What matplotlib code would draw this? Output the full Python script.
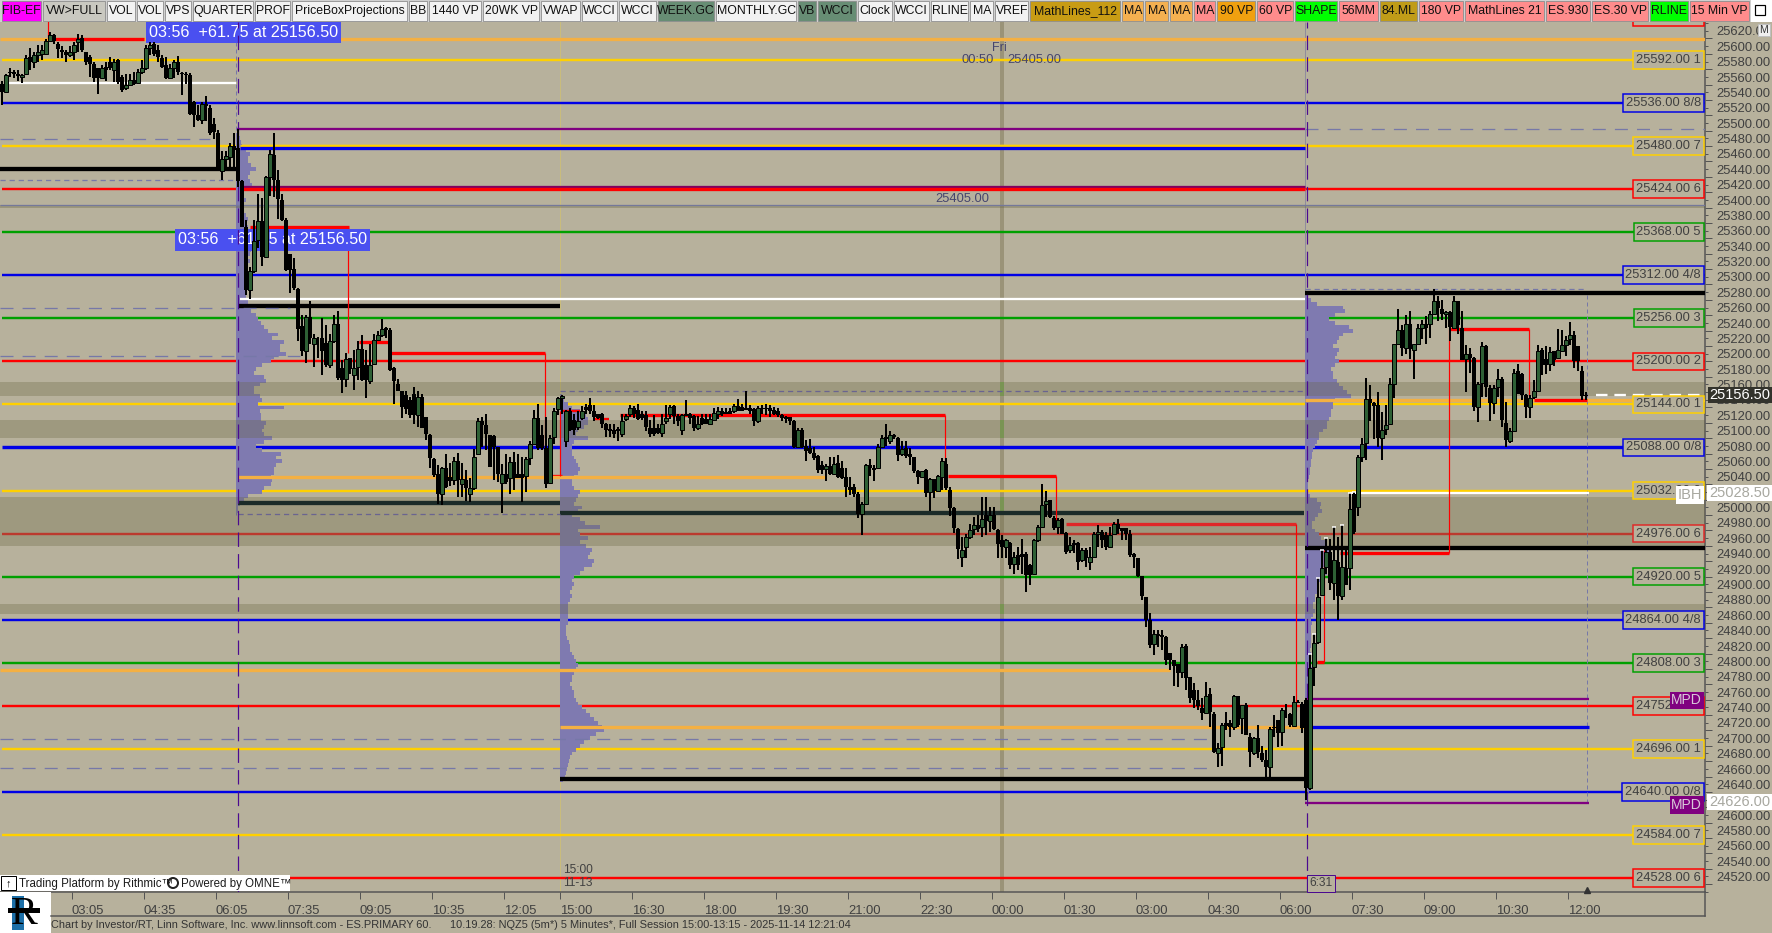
import matplotlib
matplotlib.use("Agg")
import matplotlib.pyplot as plt
from matplotlib.patches import Rectangle, Circle
from matplotlib.ticker import MultipleLocator
import numpy as np

plt.rcParams['font.family'] = ['Liberation Sans', 'DejaVu Sans']

BG = '#b7b19c'
W, H = 1772, 933

# candles, 5 minute bars, first one sits left of the 03:05 tick
first_bar = -18
body_top = [
    25561,25572,25577,25576,25574,25572,25595,25596,25598,25603,
    25605,25617,25624,25624,25613,25605,25602,25603,25612,25619,
    25620,25602,25596,25587,25581,25582,25583,25589,25590,25592,
    25570,25560,25566,25566,25576,25581,25608,25612,25613,25605,
    25595,25586,25581,25589,25589,25575,25574,25572,25537,25520,
    25535,25535,25530,25509,25497,25463,25467,25480,25480,25477,
    25435,25375,25317,25356,25382,25382,25440,25470,25468,25436,
    25410,25384,25340,25320,25294,25246,25258,25258,25231,25231,
    25230,25224,25226,25249,25249,25191,25203,25204,25192,25216,
    25216,25195,25195,25228,25234,25242,25243,25241,25191,25171,
    25162,25156,25150,25158,25153,25153,25128,25104,25073,25054,
    25061,25061,25050,25070,25070,25047,25046,25035,25076,25122,
    25122,25117,25104,25103,25089,25054,25054,25069,25069,25053,
    25053,25073,25093,25126,25126,25104,25087,25100,25135,25152,
    25155,25135,25135,25124,25123,25135,25140,25143,25135,25132,
    25132,25119,25112,25111,25112,25122,25129,25139,25139,25137,
    25132,25130,25113,25113,25113,25118,25126,25141,25142,25129,
    25130,25132,25132,25129,25119,25126,25125,25125,25133,25135,
    25135,25134,25135,25142,25142,25141,25139,25139,25138,25139,
    25139,25139,25139,25137,25135,25130,25128,25127,25123,25111,
    25111,25090,25087,25081,25077,25065,25064,25064,25067,25068,
    25061,25049,25037,25036,25028,25015,25065,25065,25061,25088,
    25100,25101,25104,25104,25100,25086,25087,25080,25075,25058,
    25057,25059,25047,25047,25051,25070,25067,25033,25009,24982,
    24955,24971,24981,24987,24987,24995,25000,25000,25000,24981,
    24967,24967,24964,24946,24948,24950,24950,24935,24967,24984,
    25013,25019,25020,24996,24994,24995,24977,24961,24964,24964,
    24955,24955,24945,24976,24978,24978,24974,24974,24988,24989,
    24983,24983,24975,24950,24944,24921,24893,24864,24845,24845,
    24844,24842,24821,24812,24806,24828,24830,24789,24773,24760,
    24749,24765,24767,24741,24697,24727,24729,24730,24765,24765,
    24753,24753,24712,24710,24710,24690,24681,24722,24725,24733,
    24746,24747,24741,24757,24757,24754,24759,24801,24834,24894,
    24931,24952,24952,24942,24939,24932,24931,25008,25028,25076,
    25092,25151,25151,25146,25143,25111,25117,25170,25222,25241,
    25241,25248,25248,25222,25243,25248,25248,25261,25279,25279,
    25268,25264,25264,25278,25278,25244,25210,25210,25204,25170,
    25220,25220,25165,25165,25177,25177,25120,25110,25185,25187,
    25184,25156,25152,25162,25213,25215,25203,25212,25213,25215,
    25221,25228,25234,25234,25220,25188,25156]
body_bot = [
    25550,25551,25575,25574,25571,25570,25574,25589,25589,25599,
    25600,25600,25617,25617,25606,25602,25598,25598,25602,25615,
    25605,25589,25587,25568,25568,25568,25579,25581,25579,25563,
    25553,25555,25560,25561,25562,25576,25581,25608,25600,25596,
    25583,25569,25569,25581,25576,25574,25573,25522,25521,25514,
    25514,25532,25497,25498,25451,25448,25463,25466,25475,25435,
    25375,25293,25293,25318,25358,25336,25336,25440,25436,25411,
    25384,25319,25319,25295,25242,25213,25213,25231,25223,25230,
    25213,25195,25195,25226,25178,25176,25177,25190,25182,25193,
    25176,25176,25175,25197,25228,25234,25241,25189,25174,25162,
    25141,25138,25130,25130,25130,25113,25106,25074,25052,25028,
    25027,25037,25044,25046,25046,25040,25035,25028,25035,25079,
    25117,25105,25063,25089,25054,25042,25043,25048,25048,25048,
    25048,25051,25074,25093,25087,25087,25041,25042,25101,25138,
    25152,25096,25111,25111,25114,25126,25137,25135,25127,25126,
    25119,25111,25110,25106,25109,25106,25125,25132,25132,25125,
    25126,25114,25106,25106,25107,25107,25122,25132,25129,25122,
    25111,25129,25126,25113,25113,25119,25119,25119,25124,25132,
    25132,25132,25132,25135,25136,25136,25137,25136,25122,25122,
    25138,25138,25136,25132,25130,25126,25125,25123,25089,25088,
    25089,25083,25081,25074,25059,25059,25060,25054,25054,25049,
    25048,25037,25033,25028,25001,25002,25015,25061,25059,25061,
    25089,25099,25096,25102,25078,25080,25077,25075,25057,25049,
    25050,25029,25030,25032,25032,25049,25035,25009,24983,24956,
    24945,24958,24971,24982,24982,24984,24992,24992,24982,24963,
    24958,24958,24935,24936,24935,24946,24922,24922,24923,24968,
    24985,25015,24997,24983,24984,24976,24952,24954,24961,24939,
    24942,24944,24939,24946,24976,24967,24959,24958,24975,24982,
    24979,24976,24948,24946,24921,24895,24864,24831,24832,24843,
    24842,24812,24811,24804,24795,24796,24788,24762,24760,24752,
    24743,24743,24744,24692,24691,24698,24726,24724,24725,24727,
    24736,24714,24692,24691,24692,24681,24673,24673,24723,24717,
    24718,24746,24727,24726,24756,24723,24645,24645,24802,24835,
    24896,24933,24912,24912,24895,24895,24909,24931,24978,25010,
    25076,25094,25146,25142,25100,25100,25112,25118,25171,25223,
    25217,25218,25216,25215,25223,25244,25244,25248,25261,25269,
    25262,25261,25245,25244,25247,25202,25203,25204,25141,25141,
    25172,25166,25146,25146,25166,25124,25098,25096,25110,25158,
    25156,25141,25141,25153,25162,25195,25195,25196,25202,25205,
    25214,25221,25229,25201,25200,25155,25155]
highs = [
    25565,25574,25581,25579,25579,25574,25598,25608,25602,25612,
    25612,25619,25629,25626,25615,25610,25605,25610,25615,25626,
    25624,25603,25598,25589,25582,25585,25589,25596,25593,25593,
    25572,25574,25574,25576,25580,25592,25612,25615,25616,25612,
    25598,25596,25587,25592,25597,25577,25576,25575,25538,25533,
    25537,25545,25533,25516,25501,25473,25473,25484,25497,25502,
    25436,25384,25323,25384,25418,25412,25441,25475,25497,25449,
    25418,25386,25340,25335,25295,25260,25260,25278,25236,25232,
    25256,25247,25236,25260,25265,25202,25211,25204,25215,25226,
    25234,25215,25223,25236,25239,25255,25245,25243,25193,25177,
    25162,25161,25154,25166,25161,25158,25128,25105,25074,25065,
    25062,25079,25068,25076,25081,25068,25059,25048,25086,25126,
    25127,25132,25104,25104,25089,25067,25080,25076,25082,25080,
    25076,25076,25097,25137,25145,25117,25128,25104,25139,25154,
    25156,25137,25139,25132,25135,25142,25145,25152,25143,25132,
    25133,25120,25119,25119,25115,25132,25132,25143,25142,25145,
    25135,25136,25124,25130,25119,25132,25143,25143,25143,25132,
    25132,25150,25133,25130,25129,25132,25132,25132,25139,25140,
    25139,25139,25139,25145,25151,25145,25161,25143,25139,25142,
    25143,25145,25143,25140,25139,25132,25129,25128,25124,25113,
    25113,25098,25099,25089,25078,25070,25067,25076,25076,25078,
    25070,25061,25050,25041,25030,25017,25067,25073,25065,25093,
    25104,25119,25109,25106,25101,25096,25096,25087,25076,25059,
    25058,25060,25048,25047,25052,25074,25074,25036,25010,24983,
    24971,24976,24988,24997,25000,25024,25024,25011,25011,24982,
    24974,24969,24965,24952,24959,24969,24952,24937,24969,24987,
    25040,25031,25020,24999,24996,24996,24978,24972,24968,24965,
    24957,24957,24959,24978,24987,24981,24978,24985,24991,24995,
    24983,24983,24981,24951,24944,24921,24893,24873,24851,24851,
    24850,24843,24821,24812,24806,24832,24833,24790,24782,24773,
    24762,24783,24775,24744,24704,24729,24744,24733,24766,24765,
    24753,24755,24716,24712,24727,24700,24694,24725,24740,24733,
    24749,24754,24742,24765,24759,24757,24762,24819,24845,24918,
    24955,24970,24969,24984,24972,24987,24957,25029,25030,25078,
    25100,25179,25169,25147,25160,25134,25143,25178,25223,25268,
    25247,25260,25266,25223,25249,25254,25259,25265,25294,25285,
    25280,25265,25265,25285,25279,25265,25221,25217,25206,25173,
    25225,25221,25169,25169,25190,25180,25147,25113,25190,25197,
    25185,25158,25156,25176,25221,25217,25220,25219,25214,25242,
    25241,25233,25251,25239,25220,25194,25160]
lows = [
    25533,25550,25570,25569,25565,25562,25573,25579,25581,25589,
    25592,25598,25615,25613,25594,25594,25589,25596,25592,25602,
    25603,25586,25570,25564,25548,25567,25565,25579,25564,25561,
    25550,25553,25559,25560,25561,25574,25579,25598,25597,25590,
    25581,25567,25568,25568,25573,25547,25561,25521,25505,25512,
    25509,25512,25495,25489,25449,25436,25451,25451,25453,25427,
    25375,25286,25281,25315,25347,25324,25335,25415,25414,25385,
    25382,25317,25289,25293,25227,25207,25198,25223,25193,25204,
    25182,25193,25191,25224,25176,25159,25167,25184,25163,25176,
    25174,25152,25171,25195,25228,25232,25230,25188,25145,25161,
    25126,25132,25126,25119,25115,25113,25098,25061,25050,25014,
    25013,25035,25038,25039,25023,25023,25018,25017,25033,25078,
    25089,25085,25063,25046,25043,25003,25041,25028,25033,25048,
    25017,25030,25065,25091,25085,25085,25035,25041,25093,25130,
    25132,25089,25109,25104,25111,25124,25132,25132,25122,25125,
    25113,25102,25102,25100,25096,25102,25122,25127,25126,25124,
    25124,25109,25101,25103,25106,25102,25119,25125,25119,25116,
    25104,25129,25119,25109,25111,25117,25119,25117,25123,25125,
    25129,25132,25132,25133,25135,25135,25137,25132,25116,25120,
    25132,25130,25127,25130,25127,25122,25120,25117,25087,25087,
    25087,25070,25080,25072,25055,25054,25044,25052,25052,25048,
    25047,25023,25026,25024,24996,24974,25014,25051,25044,25060,
    25089,25090,25093,25099,25070,25077,25074,25065,25055,25041,
    25048,25024,25006,25022,25030,25033,25033,24999,24977,24943,
    24933,24944,24969,24974,24978,24972,24974,24978,24981,24944,
    24944,24944,24930,24924,24929,24924,24900,24909,24922,24965,
    24984,24997,24996,24981,24976,24975,24950,24951,24951,24929,
    24939,24933,24928,24944,24959,24957,24954,24957,24974,24976,
    24968,24968,24946,24931,24919,24889,24855,24827,24818,24828,
    24824,24805,24799,24778,24777,24788,24773,24756,24749,24746,
    24733,24741,24725,24690,24672,24674,24720,24711,24721,24725,
    24715,24714,24672,24688,24684,24679,24660,24660,24712,24699,
    24700,24736,24725,24725,24755,24717,24629,24643,24778,24833,
    24895,24924,24903,24890,24864,24890,24909,24903,24975,24999,
    25069,25072,25123,25099,25088,25072,25104,25117,25152,25221,
    25207,25210,25203,25177,25223,25229,25223,25230,25260,25253,
    25254,25243,25226,25243,25236,25202,25160,25185,25136,25121,
    25154,25154,25123,25131,25154,25114,25089,25094,25108,25157,
    25150,25126,25126,25151,25161,25182,25183,25187,25194,25204,
    25213,25207,25221,25192,25188,25150,25150]
bar_dir = ("BGBBBGGBGG" "GGGBBBBGGG" "BBBBBGBBGB" "BGGBGGGGBB" "BBGGBBBBBB"
           "GBBBBGGGBB" "BBGGGBGGBB" "BBBBBBGBGB" "BBGGBBGBGG" "BBGGGGBBBB"
           "BBBBGBBBBB" "GBBGBGBGGG" "BBBBBGBGBB" "BGGGBBBGGG" "GGBBGGBBBB"
           "BBBBBGGGBB" "BBBBBGGGBB" "GBBBGBBGGG" "BBBGBBBBBG" "BBBBBBBBBG"
           "BBBBBBGBGB" "BBBBBGGBBG" "GBGBBGBBBB" "GBGBGGBBBB" "GGGGBGBGBB"
           "BGBGBBBBGG" "GGBBGBBGBB" "GBGGGBBGGB" "BBBBBBBBGB" "BBBBBGBBBB"
           "BGBBGGBBGB" "GBBGBBBGBB" "GBBGBBBGGG" "GGBGBGBGBG" "GGBBBGGGGG"
           "BGBGGGBGGB" "BGBGBBGBBG" "GBBGGBBGGB" "BBGGGBBGBG" "GGGBBBB")
capped_bars = [309, 310, 311, 312, 313, 315, 317, 319, 320]

# math lines along the right edge
math_prices = [25648, 25592, 25536, 25480, 25424, 25368, 25312, 25256, 25200, 25144, 25088,
               25032, 24976, 24920, 24864, 24808, 24752, 24696, 24640, 24584, 24528]
math_tags = ['2', '1', '8/8', '7', '6', '5', '4/8', '3', '2', '1', '0/8',
             '0', '6', '5', '4/8', '3', '2', '1', '0/8', '7', '6']
math_colors = ['#ff0000', '#ffd000', '#0000e6', '#ffd000', '#ff0000', '#00a000', '#0000e6', '#00a000',
               '#ff0000', '#ffd000', '#0000e6', '#ffd000', '#e02828', '#00a000', '#0000e6', '#00a000',
               '#ff0000', '#ffd000', '#0000e6', '#ffd000', '#ff0000']

# shaded value zones
zone_tops = [25173, 25124, 25024, 24884]
zone_bots = [25155, 25100, 24960, 24872]
green_tops = [25173, 25124, 25024, 24884]
green_bots = [25155, 25100, 25006, 24872]

# volume profiles, widths per 5 point row
prof1_top = 25495
prof1_vol = [2,4,5,6,10,14,12,12,15,20,14,12,14,16,10,8,6,10,8,6,8,10,12,10,12,14,12,14,12,14,15,14,12,14,12,10,
             14,12,14,16,12,10,10,12,12,14,15,20,22,25,28,32,42,36,48,44,44,50,38,35,26,20,18,28,30,24,18,18,24,26,
             22,48,24,25,25,30,28,26,28,36,28,20,26,45,40,46,40,38,38,35,36,35,28,26,12,8,4,2,2]
prof2_top = 25155
prof2_vol = [2,4,8,12,20,26,28,28,24,18,16,28,14,12,12,12,14,16,18,20,18,14,12,12,14,20,18,16,14,22,18,12,20,25,
             40,18,20,28,20,26,32,30,28,34,32,24,20,14,12,14,12,10,12,10,8,8,8,8,8,8,6,6,6,7,9,10,10,12,14,16,18,
             16,14,12,12,10,12,14,14,16,18,22,26,30,34,38,42,44,36,30,24,20,16,12,10,9,8,7,6,5,3]
prof3_top = 25285
prof3_vol = [3,6,12,38,40,30,24,30,44,48,38,34,32,28,34,32,30,34,30,26,28,28,32,34,38,42,46,30,28,28,26,26,24,22,
             22,18,14,14,12,10,8,7,7,6,6,5,5,4,3,3,3,3,5,12,16,15,17,13,10,7,7,10,14,16,20,22,24,20,22,20,20,18,
             22,20,16,14,14,12,10,10,8,8,10,8,6,7,6,6,6,6,6,6,5,6,5,5,5,8,6,5,5,4,3,3,3,2,2,2,2,2,2,2,2,2,2,2,2,
             2,2,2,2,2,2,2,3,3,3,3,4,4]

# partial horizontal lines: price, then (from px, to px, colour, width px, style)
seg_prices = [25619, 25619, 25562.5, 25502, 25502, 25488.6, 25480, 25477, 25450, 25436, 25426.4, 25424,
              25404, 25375, 25272, 25281, 25289, 25294.5, 25269.4, 25207, 25224.6, 25210.5,
              25051, 25050, 25135, 25125, 25130, 25051, 24989, 25016, 25003, 25002, 25161, 24957.6,
              24950.4, 24809, 25241.6, 25150, 25150, 25029, 25156.5, 24799, 24760.8, 24724, 24724,
              24709, 24671.5, 24657.3, 24626]
seg_specs = [(0, 1705, '#f4b042', 3, '-'), (50, 144, '#ff0000', 3, '-'), (8, 236, 'white', 2, '-'),
             (237, 1305, '#800080', 2, '-'), (1305, 1705, '#7678a8', 1, (0, (10, 7))),
             (0, 210, '#7678a8', 1, (0, (10, 7))), (240, 1305, '#ffd000', 3, '-'), (240, 1305, '#0000e6', 3, '-'),
             (0, 236, 'black', 4, '-'), (0, 236, '#7678a8', 1, (0, (4, 3))), (240, 1305, '#800060', 3, '-'),
             (240, 1305, '#ff0000', 3, '-'), (0, 1705, '#74789a', 1, '-'), (250, 349, '#ff0000', 3, '-'),
             (238, 560, 'black', 4, '-'), (240, 1305, 'white', 2, '-'), (1305, 1705, 'black', 4, '-'),
             (1305, 1587, '#7678a8', 1, (0, (4, 3))), (0, 290, '#7678a8', 1, (0, (10, 7))),
             (0, 300, '#7678a8', 1, (0, (10, 7))), (359, 388, '#ff0000', 3, '-'), (390, 545, '#ff0000', 3, '-'),
             (548, 562, '#ff0000', 3, '-'), (238, 825, '#f4b042', 3, '-'), (562, 580, '#ff0000', 2, '-'),
             (595, 609, '#ff0000', 2, '-'), (620, 945, '#ff0000', 3, '-'), (948, 1056, '#ff0000', 3, '-'),
             (1066, 1296, '#e02828', 3, '-'), (238, 560, '#1b2b28', 4, '-'), (560, 1304, '#1b2b28', 4, '-'),
             (238, 560, '#6a6490', 1, (0, (4, 3))), (560, 1305, '#6a6490', 1, (0, (4, 3))),
             (1305, 1705, 'black', 4, '-'), (1340, 1449, '#ff0000', 3, '-'), (1317, 1324, '#ff0000', 3, '-'),
             (1449, 1529, '#ff0000', 3, '-'), (1305, 1705, '#f4b042', 3, '-'), (1534, 1587, '#ff0000', 3, '-'),
             (1350, 1589, 'white', 2, '-'), (1596, 1705, 'white', 2, (0, (5, 3))), (0, 1170, '#f4b042', 3, '-'),
             (1305, 1589, '#800080', 2, '-'), (560, 1305, '#f4b042', 3, '-'), (1306, 1589, '#0000e6', 3, '-'),
             (0, 1215, '#7678a8', 1, (0, (10, 7))), (0, 1215, '#7678a8', 1, (0, (10, 7))),
             (560, 1305, 'black', 4, '-'), (1305, 1589, '#800080', 2, '-')]

# thin red steps: px, price from, price to
step_prices = [(25619, 25650), (25375, 25210.5), (25210.5, 25051), (25051, 25135), (25130, 25051),
               (25051, 24989), (24989, 24745), (24809, 24955), (24950.4, 25241.6), (25241.6, 25150)]
step_px = [48, 348, 545, 560, 945, 1056, 1296, 1324, 1449, 1529]

tick_labels = ['03:05', '04:35', '06:05', '07:35', '09:05', '10:35', '12:05', '15:00', '16:30', '18:00', '19:30',
               '21:00', '22:30', '00:00', '01:30', '03:00', '04:30', '06:00', '07:30', '09:00', '10:30', '12:00']
tick_px = [72, 144, 216, 288, 360, 432, 504, 560, 632, 704, 776, 848, 920, 992, 1064, 1136, 1208, 1280, 1352,
           1424, 1496, 1568]

buttons = ['FIB-EF', 'VW>FULL', 'VOL', 'VOL', 'VPS', 'QUARTER', 'PROF', 'PriceBoxProjections', 'BB', '1440 VP',
           '20WK VP', 'VWAP', 'WCCI', 'WCCI', 'WEEK.GC', 'MONTHLY.GC', 'VB', 'WCCI', 'Clock', 'WCCI', 'RLINE',
           'MA', 'VREF', 'MathLines_112', 'MA', 'MA', 'MA', 'MA', '90 VP', '60 VP', 'SHAPE', '56MM', '84.ML',
           '180 VP', 'MathLines 21', 'ES.930', 'ES.30 VP', 'RLINE', '15 Min VP']
button_edges = [2, 43, 107, 137, 165, 193, 255, 292, 409, 429, 483, 541, 582, 619, 658, 716, 798, 818, 858, 894,
                931, 970, 995, 1030, 1122, 1145, 1170, 1194, 1217, 1257, 1295, 1339, 1380, 1419, 1465, 1546, 1592,
                1650, 1690, 1751]
button_colors = ['#ff00ff', '#c9c8c0'] + ['#f2f2f2'] * 12 + ['#678d74', '#f2f2f2', '#678d74', '#678d74', '#f2f2f2',
                 '#f2f2f2', '#f2f2f2', '#f2f2f2', '#f2f2f2', '#c89c14', '#f4b050', '#f4b050', '#f4b050', '#ff8c8c',
                 '#f0a010', '#ff8c8c', '#00ff00', '#ff8c8c', '#c09c18', '#ff8c8c', '#ff8c8c', '#ff8c8c', '#ff8c8c',
                 '#00ff00', '#ff8c8c']


def bx(px):
    # screen column to bar position, one bar is 4 px
    return (px - 74) / 4.0


def lw(px):
    return px * 0.72


fig = plt.figure(figsize=(W / 100, H / 100), dpi=100, facecolor=BG)
ax = fig.add_axes([0, (H - 892) / H, 1705 / W, (892 - 22) / H], facecolor=BG)
ax.set_xlim(bx(0), bx(1705))
ax.set_ylim(24509.8, 25641.4)

# zones
for t, b in zip(zone_tops, zone_bots):
    ax.axhspan(b, t, color='#67643f', alpha=0.3, lw=0, zorder=2.6)
ax.axhspan(25404, 25399, color='#67643f', alpha=0.35, lw=0, zorder=2.6)
ax.axvspan(bx(1000), bx(1004), color='#9a9378', lw=0, zorder=1)
for t, b in zip(green_tops, green_bots):
    ax.fill_betweenx([b, t], bx(1000), bx(1004), color='#82aa5c', lw=0, zorder=1.1)

# math lines and their tags
for p, tag, c in zip(math_prices, math_tags, math_colors):
    ax.hlines(p, bx(2), bx(1705), color=c, lw=lw(3.4 if p == 25088 else 2.4), zorder=2)
    ax.text(bx(1701), p, '%.2f %s' % (p, tag), ha='right', va='center', fontsize=9.3, color='#404040', zorder=6,
            clip_on=True, bbox=dict(boxstyle='square,pad=0.22', fc=BG, ec=c, lw=lw(1.5)))

# partial lines
for p, (x0, x1, c, w, ls) in zip(seg_prices, seg_specs):
    ax.hlines(p, bx(x0), bx(x1), color=c, lw=lw(w + 0.3), linestyles=[ls], zorder=3)
for px, (p0, p1) in zip(step_px, step_prices):
    ax.vlines(bx(px), p0, p1, color='#ff0000', lw=lw(1.2), zorder=3)

# session separators
ax.axvline(bx(560), color='#c9bc7c', lw=lw(1), zorder=1.5)
ax.vlines(bx(560), 24660, 25160, color='#7678a8', lw=lw(1), linestyles=[(0, (4, 3))], zorder=2)
ax.vlines(bx(235.5), 25000, 25641, color='#7678a8', lw=lw(1), linestyles=[(0, (4, 3))], zorder=2)
ax.vlines(bx(1305), 24626, 25641, color='#8f8c9c', lw=lw(1), zorder=2)
ax.vlines(bx(1587), 24626, 25290, color='#7678a8', lw=lw(1), linestyles=[(0, (4, 3))], zorder=2)

# volume profiles
for base, top, vol in [(236, prof1_top, prof1_vol), (560, prof2_top, prof2_vol), (1305, prof3_top, prof3_vol)]:
    rows = top - 5 * np.arange(len(vol))
    ax.barh(rows, np.array(vol) / 4.0, left=bx(base), height=5, color='#7f7ab0', lw=0, zorder=2.5)

for px in [238.4, 1306.5]:
    ax.axvline(bx(px), color='#4b0a90', lw=lw(1.2), linestyle=(0, (12, 6)), zorder=4)

# floating price tags, candles run over them
ax.text(bx(149), 25628, '03:56  +61.75 at 25156.50', color='white', fontsize=11.6, va='center', zorder=3.5,
        bbox=dict(boxstyle='square,pad=0.2', fc='#4a50f0', ec='none'))
ax.text(bx(178), 25358, '03:56  +61.75 at 25156.50', color='white', fontsize=11.6, va='center', zorder=3.5,
        bbox=dict(boxstyle='square,pad=0.2', fc='#4a50f0', ec='none'))

# candles
xs = first_bar + np.arange(len(body_top))
top = np.array(body_top, dtype=float)
bot = np.array(body_bot, dtype=float)
ups = np.array([d == 'G' for d in bar_dir])
ax.vlines(xs, lows, highs, color='black', lw=lw(2), zorder=5, antialiased=False)
ax.bar(xs[~ups], (top - bot)[~ups], bottom=bot[~ups], width=1.0, color='black', lw=0, zorder=5.1)
ax.bar(xs[ups], (top - bot)[ups], bottom=bot[ups], width=0.8, color='#2e6035', edgecolor='black', lw=lw(1), zorder=5.2)
for i in capped_bars:
    ax.hlines(highs[i - first_bar], i - 0.6, i + 0.5, color='white', lw=lw(1.5), zorder=5.3)

# small labels on the chart
ax.text(bx(962), 25592.5, '00:50', color='#45456e', fontsize=9.3, va='center', zorder=4)
ax.text(bx(1007), 25592.5, '25405.00', color='#45456e', fontsize=9.3, va='center', zorder=4)
ax.text(bx(992), 25608, 'Fri', color='#45456e', fontsize=9, va='center', zorder=4)
ax.text(bx(935), 25411, '25405.00', color='#45456e', fontsize=9.3, va='center', zorder=4)
ax.text(bx(563), 24538, '15:00', color='#404040', fontsize=8.6, va='center', zorder=4)
ax.text(bx(563), 24522, '11-13', color='#404040', fontsize=8.6, va='center', zorder=4)
ax.text(bx(1309), 24521, '6:31', color='#404040', fontsize=8.6, va='center', zorder=6,
        bbox=dict(boxstyle='square,pad=0.2', fc=BG, ec='#4b0a90', lw=lw(1)))
ax.plot([bx(1587)], [24513], marker='^', ms=5, color='#333333', zorder=6, clip_on=False)

# value tags sitting on the math tags
ax.text(bx(1702), 25026, 'IBH', ha='right', va='center', fontsize=10.5, color='#a8a8a0', zorder=7,
        bbox=dict(boxstyle='square,pad=0.12', fc='white', ec='none'))
ax.text(bx(1702), 24759, 'MPD', ha='right', va='center', fontsize=10, color='#d8c8d8', zorder=7,
        bbox=dict(boxstyle='square,pad=0.12', fc='#800080', ec='none'))
ax.text(bx(1702), 24623, 'MPD', ha='right', va='center', fontsize=10, color='#d8c8d8', zorder=7,
        bbox=dict(boxstyle='square,pad=0.12', fc='#800080', ec='none'))

# axes
ax.set_yticks(np.arange(24520, 25640, 20))
ax.yaxis.set_minor_locator(MultipleLocator(10))
ax.yaxis.set_major_formatter(lambda v, pos: '%.2f' % v)
ax.yaxis.tick_right()
ax.tick_params(axis='y', which='major', length=5, width=lw(1), color='#555555', labelcolor='#404040',
               labelsize=9.4, pad=3)
ax.tick_params(axis='y', which='minor', length=2.5, width=lw(1), color='#555555')
for lab in ax.get_yticklabels():
    lab.set_verticalalignment('bottom')
ax.set_xticks([bx(p) for p in tick_px])
ax.set_xticklabels(tick_labels, ha='left')
ax.tick_params(axis='x', length=5, width=lw(1), color='#555555', labelcolor='#404040', labelsize=9.4, pad=4)
for s in ['left', 'top']:
    ax.spines[s].set_visible(False)
for s in ['right', 'bottom']:
    ax.spines[s].set_color('#555555')
    ax.spines[s].set_linewidth(lw(1.5))

# window chrome, screen pixels
ui = fig.add_axes([0, 0, 1, 1], facecolor='none', zorder=10)
ui.set_xlim(0, W)
ui.set_ylim(H, 0)
ui.axis('off')
ui.add_patch(Rectangle((0, 0), W, 21.5, fc='#d0d0d0', ec='none'))
for i, label in enumerate(buttons):
    x0, x1 = button_edges[i], button_edges[i + 1] - 1.5
    ui.add_patch(Rectangle((x0, 1), x1 - x0, 19.5, fc=button_colors[i], ec='#8a8a8a', lw=lw(0.8)))
    ui.text((x0 + x1) / 2, 11, label, ha='center', va='center', fontsize=8.8, color='#101010')
ui.add_patch(Rectangle((1751, 0), 21, 21.5, fc='white', ec='none'))
ui.add_patch(Rectangle((1755, 5), 10, 10, fc='white', ec='black', lw=lw(1.2)))
ui.add_patch(Rectangle((1758, 24), 12, 12, fc='#efefef', ec='#c0c0c0', lw=lw(1)))
ui.text(1764, 30, 'M', ha='center', va='center', fontsize=7.5, color='#333333')

# last price, high and low on the scale
ui.add_patch(Rectangle((1708, 387), 64, 16, fc='#33332c', ec='none'))
ui.text(1770, 395, '25156.50', ha='right', va='center', fontsize=10.5, color='white')
ui.add_patch(Rectangle((1707, 485), 65, 16, fc='white', ec='none'))
ui.text(1770, 493, '25028.50', ha='right', va='center', fontsize=10.5, color='#a8a8a0')
ui.add_patch(Rectangle((1707, 794), 65, 16, fc='white', ec='none'))
ui.text(1770, 802, '24626.00', ha='right', va='center', fontsize=10.5, color='#a8a8a0')

# bottom strip
ui.plot([51, 1705], [916, 916], color='#555555', lw=lw(1.5))
ui.plot([1705, 1705], [892, 916], color='#555555', lw=lw(1.5))
ui.add_patch(Rectangle((0, 875), 290, 16, fc='white', ec='none'))
ui.add_patch(Rectangle((1, 876), 15, 14, fc='white', ec='black', lw=lw(1)))
ui.text(8.5, 883, '\u2191', ha='center', va='center', fontsize=8, color='black', fontweight='bold')
ui.text(19, 883.5, 'Trading Platform by Rithmic\u2122', va='center', fontsize=8.3, color='#1a1a1a')
ui.add_patch(Circle((173, 883), 5, fc='white', ec='#222222', lw=lw(2)))
ui.text(181, 883.5, 'Powered by OMNE\u2122', va='center', fontsize=8.3, color='#1a1a1a')
ui.text(51, 925, 'Chart by Investor/RT, Linn Software, Inc. www.linnsoft.com - ES.PRIMARY 60.', va='center',
        fontsize=7.9, color='#333333')
ui.text(450, 925, '10.19.28: NQZ5 (5m*) 5 Minutes*, Full Session 15:00-13:15 - 2025-11-14 12:21:04', va='center',
        fontsize=7.9, color='#333333')
ui.add_patch(Rectangle((0, 892), 51, 41, fc='white', ec='none'))
ui.add_patch(Rectangle((12, 896), 12, 34, fc='#1c6fa8', ec='none'))
ui.text(24, 914, 'R', ha='center', va='center', fontsize=29, family='Liberation Serif', color='black')
ui.add_patch(Rectangle((8, 908), 32, 5, fc='black', ec='none'))

fig.savefig('out.png', dpi=100, facecolor=BG)
